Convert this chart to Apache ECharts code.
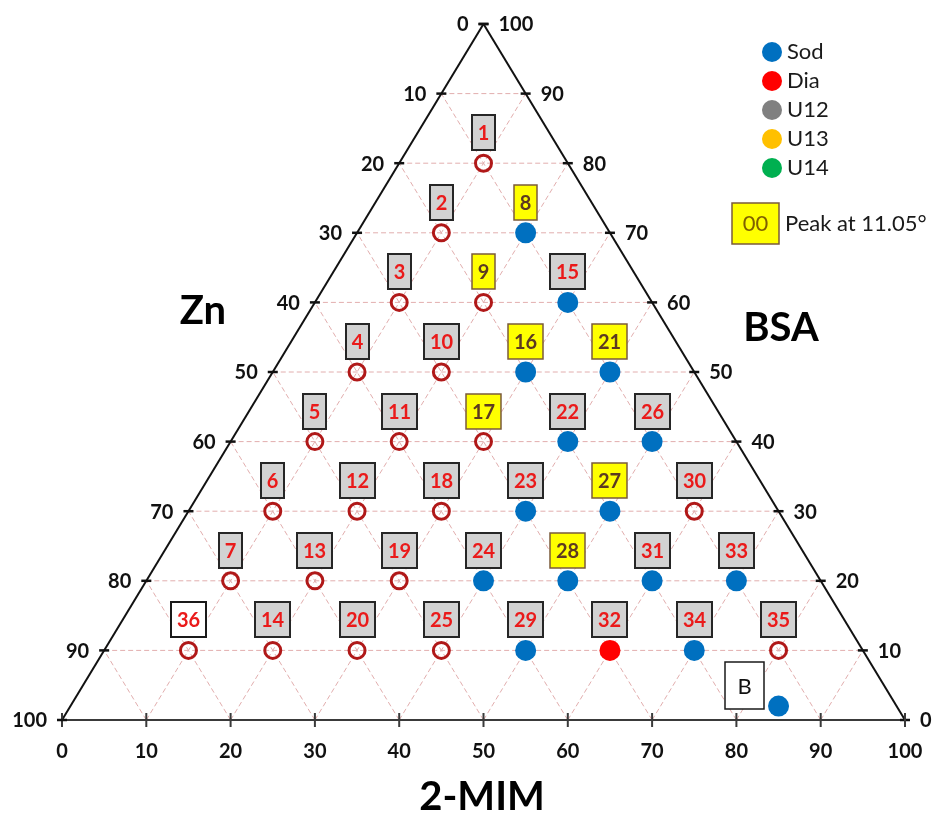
<!DOCTYPE html>
<html>
<head>
<meta charset="utf-8">
<script src="https://cdn.jsdelivr.net/npm/echarts@6/dist/echarts.min.js"></script>
<style>
  html, body { margin: 0; padding: 0; background: #ffffff; }
  #chart { width: 932px; height: 820px; }
</style>
</head>
<body>
<div id="chart"></div>
<script>
// Axis ticks shared by the three sides of the ternary diagram
const tickValues = [0, 10, 20, 30, 40, 50, 60, 70, 80, 90, 100];

// Samples: id, 2-MIM share, BSA share (Zn = 100 - 2-MIM - BSA)
const sampleIds = ['1', '2', '3', '4', '5', '6', '7', '8', '9', '10',
  '11', '12', '13', '14', '15', '16', '17', '18', '19', '20',
  '21', '22', '23', '24', '25', '26', '27', '28', '29', '30',
  '31', '32', '33', '34', '35', '36', 'B'];
const sampleMim = [10, 10, 10, 10, 10, 10, 10, 20, 20, 20,
  20, 20, 20, 20, 30, 30, 30, 30, 30, 30,
  40, 40, 40, 40, 40, 50, 50, 50, 50, 60,
  60, 60, 70, 70, 80, 10, 84];
const sampleBsa = [80, 70, 60, 50, 40, 30, 20, 70, 60, 50,
  40, 30, 20, 10, 60, 50, 40, 30, 20, 10,
  50, 40, 30, 20, 10, 40, 30, 20, 10, 30,
  20, 10, 20, 10, 10, 10, 2];
// Phase found for each sample ('' = amorphous / no crystalline phase)
const samplePhase = ['', '', '', '', '', '', '', 'Sod', '', '',
  '', '', '', '', 'Sod', 'Sod', '', '', '', '',
  'Sod', 'Sod', 'Sod', 'Sod', '', 'Sod', 'Sod', 'Sod', 'Sod', '',
  'Sod', 'Dia', 'Sod', 'Sod', '', '', 'Sod'];
// Tag style: 'grey' = regular, 'peak' = peak at 11.05°, 'plain' = white tag, 'blank' = reference
const sampleTag = ['grey', 'grey', 'grey', 'grey', 'grey', 'grey', 'grey', 'peak', 'peak', 'grey',
  'grey', 'grey', 'grey', 'grey', 'grey', 'peak', 'peak', 'grey', 'grey', 'grey',
  'peak', 'grey', 'grey', 'grey', 'grey', 'grey', 'peak', 'peak', 'grey', 'grey',
  'grey', 'grey', 'grey', 'grey', 'grey', 'plain', 'blank'];

const phaseNames = ['Sod', 'Dia', 'U12', 'U13', 'U14'];
const phaseColors = ['#0070c0', '#ff0000', '#808080', '#ffc000', '#00b050'];

const FONT = 'Lato, "Open Sans", sans-serif';

// Ternary (2-MIM, BSA) -> cartesian position on the value axes
function toXY(mim, bsa) { return [mim + bsa / 2, bsa]; }

// Dashed grid: constant BSA, constant 2-MIM and constant Zn lines
const gridSegments = [];
for (let k = 10; k < 100; k += 10) {
  gridSegments.push([0, k, 100 - k, k]);   // BSA = k
  gridSegments.push([k, 0, k, 100 - k]);   // 2-MIM = k
  gridSegments.push([100 - k, 0, 0, 100 - k]); // Zn = k
}
const edgeSegments = [
  [0, 0, 0, 100, 0],    // left edge (Zn axis)
  [100, 0, 0, 100, 0],  // right edge (BSA axis)
  [0, 0, 100, 0, 1]     // bottom edge (2-MIM axis)
];

const tickData = [];
tickValues.forEach(v => { tickData.push([0, v]); tickData.push([1, v]); tickData.push([2, v]); });

function seriesPoints(phase) {
  const out = [];
  sampleIds.forEach((id, i) => {
    if (samplePhase[i] === phase) out.push(toXY(sampleMim[i], sampleBsa[i]));
  });
  return out;
}

const tagStyles = {
  grey:  { fill: '#d2d2d2', stroke: '#262626', lineWidth: 2,   color: '#ea1a1a', weight: 'bold' },
  peak:  { fill: '#ffff00', stroke: '#7b5b3b', lineWidth: 1.5, color: '#5c3a21', weight: 'bold' },
  plain: { fill: '#ffffff', stroke: '#1a1a1a', lineWidth: 2,   color: '#ea1a1a', weight: 'bold' },
  blank: { fill: '#ffffff', stroke: '#1a1a1a', lineWidth: 1.5, color: '#111111', weight: 'normal' }
};

const tagData = sampleIds.map((id, i) => toXY(sampleMim[i], sampleBsa[i]).concat([i]));

const chart = echarts.init(document.getElementById('chart'), null, { renderer: 'canvas' });

const series = [
  {
    type: 'custom', name: 'grid', silent: true, z: 1,
    data: gridSegments,
    renderItem: function (params, api) {
      const a = api.coord(toXY(api.value(0), api.value(1)));
      const c = api.coord(toXY(api.value(2), api.value(3)));
      return { type: 'line', shape: { x1: a[0], y1: a[1], x2: c[0], y2: c[1] },
        style: { stroke: '#e2aeae', lineWidth: 1, lineDash: [5, 3] } };
    }
  },
  {
    type: 'custom', name: 'edges', silent: true, z: 2,
    data: edgeSegments,
    renderItem: function (params, api) {
      const a = api.coord(toXY(api.value(0), api.value(1)));
      const c = api.coord(toXY(api.value(2), api.value(3)));
      return { type: 'line', shape: { x1: a[0], y1: a[1], x2: c[0], y2: c[1] },
        style: { stroke: api.value(4) ? '#3a3a3a' : '#111111', lineWidth: 2 } };
    }
  },
  {
    type: 'custom', name: 'ticks', silent: true, z: 3,
    data: tickData,
    renderItem: function (params, api) {
      const side = api.value(0);
      const v = api.value(1);
      let m, b;
      if (side === 0) { m = 0; b = 100 - v; }
      else if (side === 1) { m = 100 - v; b = v; }
      else { m = v; b = 0; }
      const p = api.coord(toXY(m, b));
      const txt = { fontFamily: FONT, fontWeight: 'bold', fontSize: 20, fill: '#111111', text: String(v) };
      let tick, label;
      if (side === 2) {
        tick = { x1: p[0], y1: p[1] - 7, x2: p[0], y2: p[1] + 7 };
        label = Object.assign(txt, { x: p[0], y: p[1] + 32, align: 'center', verticalAlign: 'middle' });
      } else if (side === 0) {
        tick = { x1: p[0] - 5, y1: p[1], x2: p[0] + 5, y2: p[1] };
        label = Object.assign(txt, { x: p[0] - 15, y: p[1] + 1, align: 'right', verticalAlign: 'middle' });
      } else {
        tick = { x1: p[0] - 5, y1: p[1], x2: p[0] + 5, y2: p[1] };
        label = Object.assign(txt, { x: p[0] + 15, y: p[1] + 1, align: 'left', verticalAlign: 'middle' });
      }
      return { type: 'group', children: [
        { type: 'line', shape: tick, style: { stroke: side === 2 ? '#3a3a3a' : '#111111', lineWidth: side === 2 ? 2 : 2.5 } },
        { type: 'text', style: label }
      ] };
    }
  },
  {
    type: 'scatter', name: 'amorphous', z: 4, silent: true,
    symbol: 'circle', symbolSize: 16,
    itemStyle: { color: 'rgba(255,255,255,0)', borderColor: '#b01818', borderWidth: 3, opacity: 1 },
    data: seriesPoints('')
  }
];

phaseNames.forEach((name, i) => {
  series.push({
    type: 'scatter', name: name, z: 4, silent: true,
    symbol: 'circle', symbolSize: 21,
    itemStyle: { color: phaseColors[i], opacity: 1 },
    data: seriesPoints(name)
  });
});

// Sample tags: boxed sample numbers above each point (reference tag to the left)
series.push({
  type: 'custom', name: 'tags', z: 6, silent: true,
  data: tagData,
  renderItem: function (params, api) {
    const i = api.value(2);
    const id = sampleIds[i];
    const st = tagStyles[sampleTag[i]];
    const p = api.coord([api.value(0), api.value(1)]);
    const isRef = sampleTag[i] === 'blank';
    const w = isRef ? 39 : (id.length === 1 ? 23 : 35);
    const h = isRef ? 47 : 35;
    const cx = isRef ? p[0] - 34.5 : p[0];
    const cy = isRef ? p[1] - 20.5 : p[1] - 30.5;
    const x0 = Math.round(cx - w / 2);
    const y0 = Math.round(cy - h / 2);
    return { type: 'group', children: [
      { type: 'rect', shape: { x: x0, y: y0, width: w, height: h },
        style: { fill: st.fill, stroke: st.stroke, lineWidth: st.lineWidth } },
      { type: 'text', style: { text: id, x: x0 + w / 2, y: y0 + h / 2 + 1, align: 'center', verticalAlign: 'middle',
        fontFamily: FONT, fontWeight: st.weight, fontSize: isRef ? 22 : 20, fill: st.color } }
    ] };
  }
});

chart.setOption({
  animation: false,
  backgroundColor: '#ffffff',
  grid: { left: 62, right: 27, top: 24, bottom: 100 },
  xAxis: { type: 'value', min: 0, max: 100, show: false },
  yAxis: { type: 'value', min: 0, max: 100, show: false },
  legend: {
    data: phaseNames,
    orient: 'vertical',
    left: 757, top: 36,
    itemWidth: 20, itemHeight: 20, itemGap: 7,
    icon: 'circle',
    selectedMode: false,
    textStyle: { fontFamily: FONT, fontSize: 22, color: '#1a1a1a' }
  },
  graphic: [
    { type: 'text', x: 203, y: 311,
      style: { text: 'Zn', fontFamily: FONT, fontWeight: 'bold', fontSize: 40, fill: '#000', align: 'center', verticalAlign: 'middle' } },
    { type: 'text', x: 781, y: 328,
      style: { text: 'BSA', fontFamily: FONT, fontWeight: 'bold', fontSize: 40, fill: '#000', align: 'center', verticalAlign: 'middle' } },
    { type: 'text', x: 482, y: 797,
      style: { text: '2-MIM', fontFamily: FONT, fontWeight: 'bold', fontSize: 40, fill: '#000', align: 'center', verticalAlign: 'middle' } },
    { type: 'rect', shape: { x: 732, y: 203, width: 47, height: 41 },
      style: { fill: '#ffff00', stroke: '#7b5b3b', lineWidth: 1.5 } },
    { type: 'text', x: 755.5, y: 224,
      style: { text: '00', fontFamily: FONT, fontSize: 22, fill: '#7f6000', align: 'center', verticalAlign: 'middle' } },
    { type: 'text', x: 785, y: 224,
      style: { text: 'Peak at 11.05°', fontFamily: FONT, fontSize: 22, fill: '#1a1a1a', align: 'left', verticalAlign: 'middle' } }
  ],
  series: series
});
</script>
</body>
</html>
